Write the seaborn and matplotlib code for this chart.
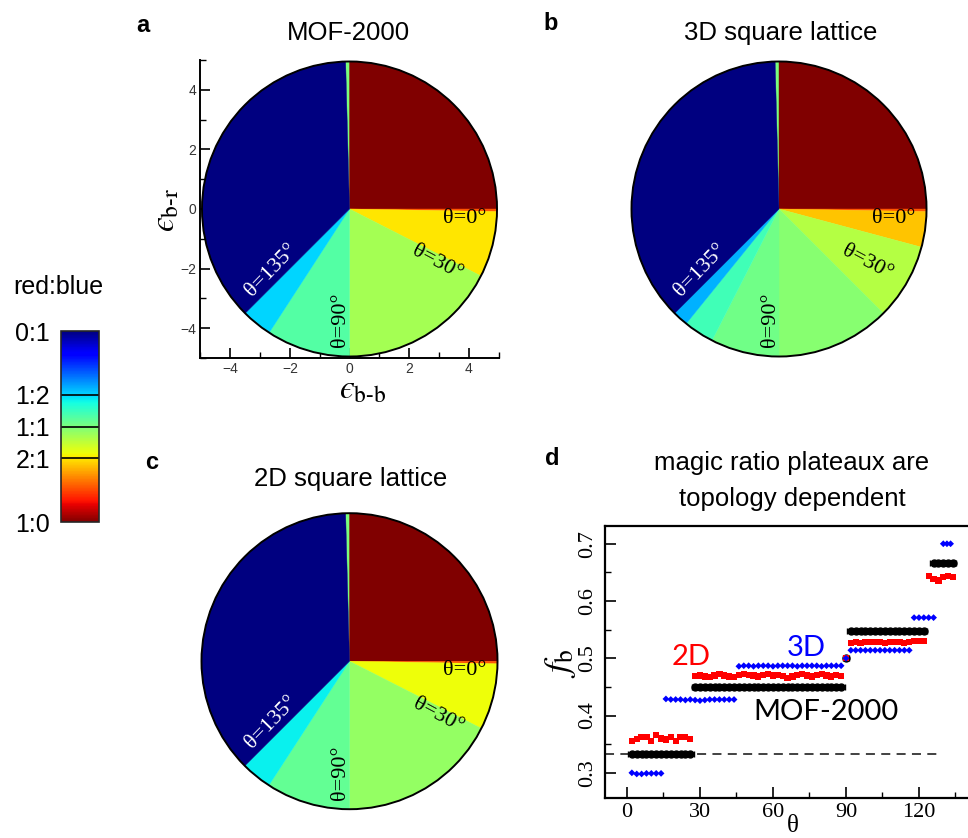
import numpy as np
import pandas as pd
import matplotlib
matplotlib.use("Agg")
import matplotlib.pyplot as plt
import seaborn as sns
from matplotlib.patches import Circle
from matplotlib.colors import Normalize
from matplotlib.cm import ScalarMappable
from matplotlib.ticker import MultipleLocator

sns.set_theme(style="ticks")
plt.rcParams["font.family"] = ["Liberation Sans", "DejaVu Sans"]
plt.rcParams["mathtext.fontset"] = "stix"
plt.rcParams["text.color"] = "black"
plt.rcParams["axes.labelcolor"] = "black"
plt.rcParams["xtick.color"] = "black"
plt.rcParams["ytick.color"] = "black"

# ---- phase-diagram wedges: edges in theta (deg, clockwise from +x) and blue fraction per wedge
MOF_EDGES = [-91.5, -90, 0, 1, 27, 90, 123, 135, 268.5]
MOF_FB = [0.5, 0.0, 0.18, 0.333, 0.45, 0.55, 0.667, 1.0]

SQ3D_EDGES = [-91.5, -90, 0, 1, 15, 45, 90, 117, 129, 135, 268.5]
SQ3D_FB = [0.5, 0.0, 0.18, 0.30, 0.43, 0.487, 0.515, 0.572, 0.70, 1.0]

SQ2D_EDGES = [-91.5, -90, 0, 1, 27, 90, 123, 135, 268.5]
SQ2D_FB = [0.5, 0.0, 0.18, 0.36, 0.47, 0.528, 0.64, 1.0]

THETA_LABELS = ["θ=0°", "θ=30°", "θ=90°", "θ=135°"]

# ---- blue fraction f_b versus theta
THETA_MOF = ([2, 4, 6, 8, 10, 12, 14, 16, 18, 20, 22, 24, 26]
             + [28, 30, 32, 34, 36, 38, 40, 42, 44, 46, 48, 50, 52, 54, 56, 58,
                60, 62, 64, 66, 68, 70, 72, 74, 76, 78, 80, 82, 84, 86, 88]
             + [90]
             + [92, 94, 96, 98, 100, 102, 104, 106, 108, 110, 112, 114, 116, 118, 120, 122]
             + [126, 128, 130, 132, 134])
FB_MOF = [0.3333] * 13 + [0.4505] * 31 + [0.5] + [0.5485] * 16 + [0.6667] * 5

THETA_2D = ([2, 4, 6, 8, 10, 12, 14, 16, 18, 20, 22, 24, 26]
            + [28, 30, 32, 34, 36, 38, 40, 42, 44, 46, 48, 50, 52, 54, 56, 58,
               60, 62, 64, 66, 68, 70, 72, 74, 76, 78, 80, 82, 84, 86, 88]
            + [90]
            + [92, 94, 96, 98, 100, 102, 104, 106, 108, 110, 112, 114, 116, 118, 120, 122]
            + [124, 126, 128, 130, 132, 134])
FB_2D = ([0.356, 0.359, 0.362, 0.363, 0.356, 0.366, 0.360, 0.358, 0.362, 0.356, 0.363, 0.362, 0.359]
         + [0.469, 0.470, 0.468, 0.467, 0.470, 0.473, 0.470, 0.468, 0.467, 0.471, 0.473, 0.471,
            0.470, 0.468, 0.471, 0.472, 0.470, 0.471, 0.469, 0.466, 0.468, 0.471, 0.472, 0.470,
            0.468, 0.471, 0.473, 0.470, 0.468, 0.471, 0.469]
         + [0.500]
         + [0.527, 0.528, 0.527, 0.528, 0.529, 0.529, 0.528, 0.527, 0.528, 0.529, 0.528, 0.527,
            0.529, 0.530, 0.530, 0.530]
         + [0.644, 0.638, 0.636, 0.642, 0.644, 0.642])

THETA_3D = ([2, 4, 6, 8, 10, 12, 14]
            + [16, 18, 20, 22, 24, 26, 28, 30, 32, 34, 36, 38, 40, 42, 44]
            + [46, 48, 50, 52, 54, 56, 58, 60, 62, 64, 66, 68, 70, 72, 74, 76, 78, 80, 82, 84, 86, 88]
            + [90]
            + [92, 94, 96, 98, 100, 102, 104, 106, 108, 110, 112, 114, 116]
            + [118, 120, 122, 124, 126]
            + [130, 131.5, 133])
FB_3D = ([0.300, 0.298, 0.298, 0.299, 0.299, 0.299, 0.299]
         + [0.429, 0.428, 0.428, 0.428, 0.427, 0.428, 0.427, 0.426, 0.427, 0.428, 0.428, 0.428,
            0.428, 0.428, 0.428]
         + [0.486, 0.487, 0.487, 0.486, 0.487, 0.487, 0.487, 0.486, 0.487, 0.487, 0.487, 0.487,
            0.486, 0.487, 0.487, 0.487, 0.487, 0.486, 0.487, 0.487, 0.487, 0.487]
         + [0.500]
         + [0.514] * 13
         + [0.571] * 5
         + [0.700] * 3)

CBAR_TICKS = [0, 1 / 3, 1 / 2, 2 / 3, 1]
CBAR_LABELS = ["1:0", "2:1", "1:1", "1:2", "0:1"]

W, H = 968, 838
fig = plt.figure(figsize=(W / 100, H / 100), dpi=100)
cmap = plt.get_cmap("jet_r")


def fig_box(x0, y0, x1, y1):
    return [x0 / W, 1 - y1 / H, (x1 - x0) / W, (y1 - y0) / H]


def fig_xy(x, y):
    return x / W, 1 - y / H


def draw_pie(ax, edges, fbs):
    sizes = np.diff(edges)
    wedges, _ = ax.pie(sizes, colors=[cmap(f) for f in fbs], startangle=-edges[0],
                       counterclock=False, radius=4.95, center=(0, 0), frame=True,
                       wedgeprops=dict(linewidth=0.3))
    for w in wedges:
        w.set_edgecolor(w.get_facecolor())
    ax.add_patch(Circle((0, 0), 4.95, fill=False, edgecolor="black", lw=1.4, zorder=5))
    ax.set_xlim(-5, 5)
    ax.set_ylim(-5, 5)
    ax.set_aspect("equal")
    tkw = dict(family="Liberation Serif", fontsize=16, ha="center", va="center", zorder=6)
    ax.text(3.85, -0.32, THETA_LABELS[0], color="black", **tkw)
    ax.text(2.95, -1.82, THETA_LABELS[1], color="black", rotation=-28, **tkw)
    ax.text(-0.3, -3.72, THETA_LABELS[2], color="black", rotation=90, **tkw)
    ax.text(-2.62, -2.05, THETA_LABELS[3], color="white", rotation=46, **tkw)


# ---- panel a: MOF-2000 with axes
ax_a = fig.add_axes(fig_box(200, 60, 499, 358))
draw_pie(ax_a, MOF_EDGES, MOF_FB)
for s in ["top", "right"]:
    ax_a.spines[s].set_visible(False)
for s in ["left", "bottom"]:
    ax_a.spines[s].set_linewidth(1.4)
    ax_a.spines[s].set_color("black")
ax_a.set_xticks([-4, -2, 0, 2, 4])
ax_a.set_yticks([-4, -2, 0, 2, 4])
ax_a.xaxis.set_minor_locator(MultipleLocator(1))
ax_a.yaxis.set_minor_locator(MultipleLocator(1))
ax_a.set_xticklabels(["\u22124", "\u22122", "0", "2", "4"])
ax_a.set_yticklabels(["\u22124", "\u22122", "0", "2", "4"])
ax_a.tick_params(which="major", direction="in", length=7, width=1.2, labelsize=10,
                 labelcolor="#333333", color="black", pad=3)
ax_a.tick_params(which="minor", direction="in", length=4, width=1.0, color="black")
ax_a.tick_params(axis="x", which="both", top=False, bottom=True)
ax_a.tick_params(axis="y", which="both", right=False, left=True)
fig.text(*fig_xy(363, 390), "$\u03f5_{\\mathrm{b}\\text{-}\\mathrm{b}}$", fontsize=24,
         ha="center", va="center")
fig.text(*fig_xy(166, 210), "$\u03f5_{\\mathrm{b}\\text{-}\\mathrm{r}}$", fontsize=24,
         ha="center", va="center", rotation=90)

# ---- panel b: 3D square lattice
ax_b = fig.add_axes(fig_box(629.5, 60, 928.5, 358))
draw_pie(ax_b, SQ3D_EDGES, SQ3D_FB)
ax_b.axis("off")

# ---- panel c: 2D square lattice
ax_c = fig.add_axes(fig_box(200, 511.7, 499, 810.7))
draw_pie(ax_c, SQ2D_EDGES, SQ2D_FB)
ax_c.axis("off")

# ---- colour scale
cax = fig.add_axes(fig_box(61, 331, 99, 522))
sm = ScalarMappable(norm=Normalize(0, 1), cmap=cmap)
cb = fig.colorbar(sm, cax=cax, ticks=CBAR_TICKS)
cb.ax.set_yticklabels(CBAR_LABELS)
cb.ax.yaxis.set_ticks_position("left")
cb.ax.tick_params(length=0, labelsize=18, pad=8, labelcolor="black")
cb.outline.set_linewidth(1.2)
for t in CBAR_TICKS[1:4]:
    cax.axhline(t, color="black", lw=1.2)
fig.text(*fig_xy(58, 287), "red:blue", fontsize=18, ha="center", va="center")

# ---- panel d: f_b vs theta
ax_d = fig.add_axes(fig_box(605, 526, 972, 798))
ax_d.plot([-9, 128], [1 / 3, 1 / 3], ls=(0, (5, 3.5)), color="#333333", lw=1.3, zorder=1)
ax_d.errorbar(THETA_MOF, FB_MOF, xerr=1.4, fmt="o", color="black", ms=5,
              elinewidth=1.3, capsize=2.5, capthick=1, zorder=2)
df2 = pd.DataFrame({"theta": THETA_2D, "fb": FB_2D})
df3 = pd.DataFrame({"theta": THETA_3D, "fb": FB_3D})
sns.scatterplot(data=df2, x="theta", y="fb", marker="s", color="#ff0000", s=20,
                edgecolor="none", ax=ax_d, zorder=3)
sns.scatterplot(data=df3, x="theta", y="fb", marker="D", color="#0000ff", s=12,
                edgecolor="none", ax=ax_d, zorder=4)
ax_d.set_xlim(-9.04, 141.8)
ax_d.set_ylim(0.256, 0.731)
ax_d.set_xticks([0, 30, 60, 90, 120])
ax_d.set_yticks([0.3, 0.4, 0.5, 0.6, 0.7])
ax_d.xaxis.set_minor_locator(MultipleLocator(15))
ax_d.yaxis.set_minor_locator(MultipleLocator(0.05))
ax_d.tick_params(which="major", direction="in", length=8, width=1.2, color="black",
                 labelsize=16, top=False, right=False, labelcolor="black")
ax_d.tick_params(which="minor", direction="in", length=4, width=1.0, color="black",
                 top=False, right=False)
ax_d.tick_params(axis="y", pad=6)
for lab in ax_d.get_xticklabels() + ax_d.get_yticklabels():
    lab.set_family("Liberation Serif")
for lab in ax_d.get_yticklabels():
    lab.set_rotation(90)
    lab.set_va("center")
for s in ax_d.spines.values():
    s.set_linewidth(1.6)
    s.set_color("black")
ax_d.set_xlabel("")
ax_d.set_ylabel("")
fig.text(*fig_xy(793, 826), "θ", family="Liberation Serif", fontsize=18,
         ha="center", va="center")
fig.text(*fig_xy(561, 663), r"$f_{\mathrm{b}}$", fontsize=26, ha="center", va="center",
         rotation=90)
ax_d.text(26.5, 0.503, "2D", color="#ff0000", family="Lato", fontsize=21,
          ha="center", va="center")
ax_d.text(73.7, 0.518, "3D", color="#0000ff", family="Lato", fontsize=21,
          ha="center", va="center")
ax_d.text(81.8, 0.407, "MOF-2000", color="black", family="Lato", fontsize=21,
          ha="center", va="center")

# ---- titles and panel letters
ttl = dict(fontsize=18.5, ha="center", va="center")
fig.text(*fig_xy(348, 33), "MOF-2000", **ttl)
fig.text(*fig_xy(781, 33), "3D square lattice", **ttl)
fig.text(*fig_xy(351, 479), "2D square lattice", **ttl)
fig.text(*fig_xy(792, 463), "magic ratio plateaux are", **ttl)
fig.text(*fig_xy(792, 499), "topology dependent", **ttl)
lbl = dict(fontsize=17, fontweight="bold", ha="center", va="center")
fig.text(*fig_xy(143, 25), "a", **lbl)
fig.text(*fig_xy(551, 23), "b", **lbl)
fig.text(*fig_xy(152, 462), "c", **lbl)
fig.text(*fig_xy(552, 458), "d", **lbl)

fig.savefig("out.png", dpi=100)
